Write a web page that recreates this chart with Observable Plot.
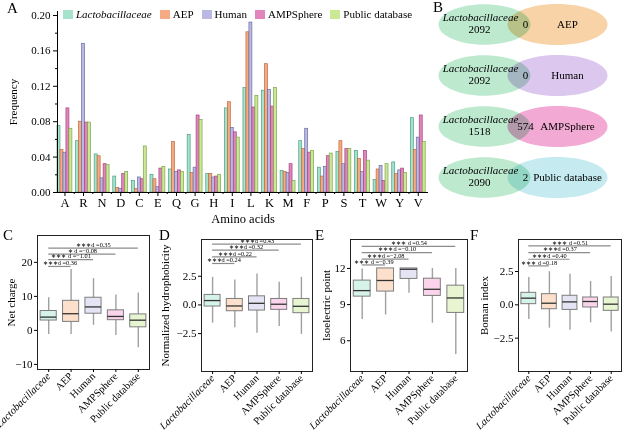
<!DOCTYPE html>
<html>
<head>
<meta charset="utf-8">
<script src="https://cdn.jsdelivr.net/npm/d3@7"></script>
<script src="https://cdn.jsdelivr.net/npm/@observablehq/plot@0.6"></script>
<style>
  html, body { margin: 0; padding: 0; background: #fff; }
  #root { position: relative; width: 627px; height: 434px; overflow: hidden; background: #fff; font-family: "Liberation Serif", serif; }
  .panel { position: absolute; }
  .letter { position: absolute; font-size: 15px; line-height: 1; color: #000; }
  #legend { position: absolute; left: 63px; top: 8px; display: flex; align-items: center; gap: 8px; font-size: 11px; }
  #legend .item { display: flex; align-items: center; gap: 3px; }
  #legend .sw { width: 10px; height: 9px; }
</style>
</head>
<body>
<div id="root"></div>
<script>
// ---------- data ----------
const groups = ["Lactobacillaceae", "AEP", "Human", "AMPSphere", "Public database"];
const aminoAcids = ["A","R","N","D","C","E","Q","G","H","I","L","K","M","F","P","S","T","W","Y","V"];
const freqLacto  = [0.075,0.058,0.043,0.018,0.013,0.020,0.026,0.065,0.021,0.095,0.118,0.115,0.0245,0.058,0.028,0.046,0.047,0.014,0.034,0.084];
const freqAEP    = [0.048,0.080,0.041,0.005,0.004,0.015,0.057,0.022,0.021,0.102,0.181,0.145,0.023,0.049,0.018,0.058,0.038,0.026,0.021,0.048];
const freqHuman  = [0.045,0.168,0.016,0.004,0.017,0.006,0.023,0.028,0.017,0.073,0.192,0.116,0.022,0.072,0.029,0.032,0.023,0.030,0.025,0.062];
const freqAMPS   = [0.095,0.079,0.032,0.021,0.015,0.027,0.025,0.087,0.018,0.068,0.096,0.097,0.032,0.045,0.041,0.049,0.047,0.013,0.027,0.087];
const freqPublic = [0.072,0.079,0.031,0.023,0.052,0.029,0.023,0.082,0.020,0.062,0.109,0.118,0.013,0.047,0.044,0.049,0.036,0.032,0.022,0.057];
const freqTicksMajor = [0, 0.04, 0.08, 0.12, 0.16, 0.20];
const freqTicksMinor = [0.02, 0.06, 0.10, 0.14, 0.18];

const vennSets   = ["AEP", "Human", "AMPSphere", "Public database"];
const vennLacto  = [2092, 2092, 1518, 2090];
const vennShared = [0, 0, 574, 2];

// box stats: [low whisker, Q1, median, Q3, high whisker] per group
const netCharge = [[-1.2,2.9,3.9,5.7,9.6],[-1.2,2.5,4.9,8.7,17.9],[1.5,4.9,6.9,9.6,15.2],[-1.5,3.0,4.1,5.9,10.4],[-5.1,0.9,3.0,4.7,11.0]];
const hydrophobicity = [[-1.59,-0.14,0.38,0.87,2.4],[-1.99,-0.55,-0.09,0.52,2.17],[-2.46,-0.49,0.14,0.75,2.69],[-1.88,-0.43,0.06,0.52,1.97],[-2.57,-0.72,-0.12,0.52,2.4]];
const isoelectric = [[7.76,9.66,10.16,10.99,11.96],[8.14,10.08,11.0,12.0,12.0],[9.94,11.13,11.93,12.0,12.0],[7.45,9.72,10.27,11.15,12.0],[4.86,8.31,9.55,10.57,12.0]];
const boman = [[-1.1,0.05,0.5,0.9,2.05],[-1.75,-0.33,0.12,0.8,2.48],[-1.9,-0.38,0.22,0.68,2.3],[-1.35,-0.2,0.25,0.55,1.75],[-2.03,-0.45,0.05,0.55,2.12]];

const netChargeSig = ["∗∗∗d =0.36", "∗∗∗ d =−1.01", "∗ d =−0.08", "∗∗∗d =0.35"];
const netChargeSigLevel = [18.8, 20.8, 22.4, 24.2];
const hydroSig = ["∗∗∗d =0.24", "∗∗∗d =0.22", "∗∗∗d =0.32", "∗∗∗d =0.43"];
const hydroSigLevel = [3.61, 4.19, 4.77, 5.29];
const isoSig = ["∗∗∗ d =−0.39", "∗∗∗d =−2.08", "∗∗∗d =−0.10", "∗∗∗ d =0.54"];
const isoSigLevel = [12.29, 12.78, 13.31, 13.83];
const bomanSig = ["∗∗∗ d =0.18", "∗∗∗d =0.40", "∗∗∗d =0.37", "∗∗∗ d =0.51"];
const bomanSigLevel = [2.92, 3.42, 3.92, 4.42];

// ---------- styles ----------
const barFill   = ["#a6e3cd", "#f5aa84", "#b9b9e3", "#e285bd", "#cbe995"];
const barStroke = ["#4a9e80", "#c06a3a", "#6e6ea0", "#a5457f", "#7fa34a"];
const boxFill   = ["#d6f3ea", "#fde0cc", "#e4e4f4", "#f9d4ea", "#e7f6d1"];
const vennLeftFill = "#bde9cf";
const vennRightFill = ["#f9d3a8", "#dcc7ee", "#f2a9d3", "#c5ebf1"];
const FONT = "Liberation Serif";

const root = document.getElementById("root");
function place(node, left, top) {
  node.classList.add("panel");
  node.style.left = left + "px";
  node.style.top = top + "px";
  root.appendChild(node);
}
function letter(t, left, top) {
  const d = document.createElement("div");
  d.className = "letter"; d.textContent = t;
  d.style.left = left + "px"; d.style.top = top + "px";
  root.appendChild(d);
}
function italicize(svg) {
  svg.querySelectorAll("text").forEach(t => {
    if (t.textContent === "Lactobacillaceae") t.setAttribute("font-style", "italic");
  });
}

// ---------- Panel A ----------
const freqSeries = [freqLacto, freqAEP, freqHuman, freqAMPS, freqPublic];
const freqTable = freqSeries.flatMap((s, j) => s.map((v, i) => ({aa: aminoAcids[i], i, j, value: v})));
const barW = 0.16;
const svgA = Plot.plot({
  width: 435, height: 225,
  marginLeft: 57, marginRight: 7, marginTop: 11, marginBottom: 33,
  x: {domain: [-0.4, 19.55]},
  y: {domain: [0, 0.2045]},
  style: {fontFamily: FONT, fontSize: "11px", color: "#000", background: "transparent"},
  marks: [
    ...groups.map((g, j) => Plot.rectY(freqTable.filter(d => d.j === j), {
      x1: d => d.i - 0.4 + d.j * barW, x2: d => d.i - 0.4 + (d.j + 1) * barW,
      y: "value", fill: barFill[j], stroke: barStroke[j], strokeWidth: 0.7
    })),
    Plot.ruleY([0], {stroke: "#000"}),
    Plot.ruleX([-0.4], {stroke: "#000"}),
    Plot.axisY({ticks: freqTicksMajor, tickFormat: d3.format(".2f"), tickSize: 4, tickPadding: 3, fontSize: 11,
      label: "Frequency", labelAnchor: "center", labelArrow: "none", labelOffset: 48}),
    Plot.axisY({ticks: freqTicksMinor, tickSize: 2, tickFormat: () => "", label: null}),
    Plot.axisX({ticks: d3.range(aminoAcids.length), tickFormat: i => aminoAcids[i], tickSize: 4, tickPadding: 2, fontSize: 12.5,
      label: "Amino acids", labelAnchor: "center", labelArrow: "none", labelOffset: 30}),
    Plot.axisX({ticks: d3.range(0.5, aminoAcids.length - 1, 1), tickSize: 2, tickFormat: () => "", label: null})
  ]
});
place(svgA, 0, 0);

const legend = document.createElement("div");
legend.id = "legend";
groups.forEach((g, j) => {
  const it = document.createElement("div"); it.className = "item";
  const sw = document.createElement("div"); sw.className = "sw"; sw.style.background = barFill[j];
  const tx = document.createElement("span"); tx.textContent = g;
  if (g === "Lactobacillaceae") tx.style.fontStyle = "italic";
  it.appendChild(sw); it.appendChild(tx); legend.appendChild(it);
});
root.appendChild(legend);

// ---------- Panel B ----------
function ellipseSymbol(aspect) {
  return {
    draw(ctx, size) {
      const rx = Math.sqrt(size / Math.PI), ry = rx * aspect, k = 0.5523;
      ctx.moveTo(rx, 0);
      ctx.bezierCurveTo(rx, ry * k, rx * k, ry, 0, ry);
      ctx.bezierCurveTo(-rx * k, ry, -rx, ry * k, -rx, 0);
      ctx.bezierCurveTo(-rx, -ry * k, -rx * k, -ry, 0, -ry);
      ctx.bezierCurveTo(rx * k, -ry, rx, -ry * k, rx, 0);
      ctx.closePath();
    }
  };
}
const venn = vennSets.map((s, k) => ({set: s, only: vennLacto[k], shared: vennShared[k], color: vennRightFill[k]}));
const svgB = Plot.plot({
  width: 197, height: 210, margin: 0,
  x: {type: "point", domain: ["L", "M", "R"], range: [44, 136], padding: 0, axis: null},
  y: {type: "point", domain: vennSets, range: [23, 178], padding: 0, axis: null},
  color: {type: "identity"},
  style: {fontFamily: FONT, fontSize: "11px", color: "#000", background: "transparent"},
  marks: [
    Plot.dot(venn, {x: () => "L", y: "set", r: 46, symbol: ellipseSymbol(0.44), fill: vennLeftFill, dx: 10}),
    Plot.dot(venn, {x: () => "R", y: "set", r: 50, symbol: ellipseSymbol(0.41), fill: "color", dx: -9, mixBlendMode: "multiply"}),
    Plot.text(venn, {x: () => "L", y: "set", text: () => "Lactobacillaceae", fontStyle: "italic", dx: 6, dy: -7, fontSize: 11}),
    Plot.text(venn, {x: () => "L", y: "set", text: d => String(d.only), dx: 5, dy: 5, fontSize: 11}),
    Plot.text(venn, {x: () => "M", y: "set", text: d => String(d.shared), dx: 5, fontSize: 11}),
    Plot.text(venn, {x: () => "R", y: "set", text: "set", dx: 1, fontSize: 11})
  ]
});
{
  const dots = svgB.querySelectorAll('g[aria-label="dot"]');
  if (dots.length > 1) dots[1].style.mixBlendMode = "multiply";
}
place(svgB, 430, 0);

// ---------- Panels C–F ----------
function boxPanel(stats, sigText, sigLevel, opt) {
  const boxes = groups.map((g, i) => ({i, low: stats[i][0], q1: stats[i][1], med: stats[i][2], q3: stats[i][3], high: stats[i][4]}));
  const sig = sigText.map((t, k) => ({i: k + 1, level: sigLevel[k], text: t}));
  const half = 0.36;
  const svg = Plot.plot({
    width: opt.width, height: 224,
    marginLeft: opt.ml, marginRight: opt.mr, marginTop: opt.mt, marginBottom: opt.mb,
    x: {domain: [-0.5, 4.5]},
    y: {domain: opt.domain},
    color: {type: "identity"},
    style: {fontFamily: FONT, fontSize: "11px", color: "#000", background: "transparent", overflow: "visible"},
    marks: [
      Plot.ruleX(boxes, {x: "i", y1: "low", y2: "high", stroke: "#a0a0a0", strokeWidth: 1.4}),
      Plot.rect(boxes, {x1: d => d.i - half, x2: d => d.i + half, y1: "q1", y2: "q3", fill: d => boxFill[d.i], stroke: "#7d7d7d", strokeWidth: 1}),
      Plot.ruleY(boxes, {y: "med", x1: d => d.i - half, x2: d => d.i + half, stroke: "#333", strokeWidth: 1.3}),
      Plot.ruleY(sig, {y: "level", x1: () => 0, x2: "i", stroke: "#8c8c8c", strokeWidth: 1.2}),
      Plot.text(sig, {x: d => d.i / 2, y: "level", text: "text", dy: -3.3, fontSize: 6.3}),
      Plot.frame({stroke: "#222"}),
      Plot.axisY({ticks: opt.ticks, tickFormat: opt.fmt, tickSize: 3, tickPadding: 2, fontSize: 11,
        label: opt.label, labelAnchor: "center", labelArrow: "none", labelOffset: opt.lo}),
      Plot.axisX({ticks: [0, 1, 2, 3, 4], tickFormat: i => groups[i], tickRotate: -45, tickSize: 3, tickPadding: 2, fontSize: 10.5, label: null})
    ]
  });
  italicize(svg);
  return svg;
}
const fmt1 = d3.format(".1f");
place(boxPanel(netCharge, netChargeSig, netChargeSigLevel,
  {width: 155, ml: 37, mr: 6, mt: 25, mb: 65, domain: [-11.5, 27.9], ticks: [-10, 0, 10, 20], fmt: d3.format("d"), label: "Net charge", lo: 30}), 0, 210);
place(boxPanel(hydrophobicity, hydroSig, hydroSigLevel,
  {width: 160, ml: 46, mr: 3, mt: 29, mb: 63, domain: [-5.8, 5.7], ticks: [-2.5, 0, 2.5], fmt: fmt1, label: "Normalized hydrophobicity", lo: 40}), 155, 210);
place(boxPanel(isoelectric, isoSig, isoSigLevel,
  {width: 160, ml: 40, mr: 3, mt: 29, mb: 63, domain: [3.45, 14.4], ticks: [6, 9, 12], fmt: d3.format("d"), label: "Isoelectric point", lo: 28}), 310, 210);
place(boxPanel(boman, bomanSig, bomanSigLevel,
  {width: 162, ml: 53, mr: 6, mt: 29, mb: 63, domain: [-5.0, 4.9], ticks: [-2.5, 0, 2.5], fmt: fmt1, label: "Boman index", lo: 38}), 465, 210);

// panel letters
letter("A", 7, 1);
letter("B", 433, 0);
letter("C", 3, 228);
letter("D", 159, 228);
letter("E", 315, 228);
letter("F", 470, 228);
</script>
</body>
</html>
